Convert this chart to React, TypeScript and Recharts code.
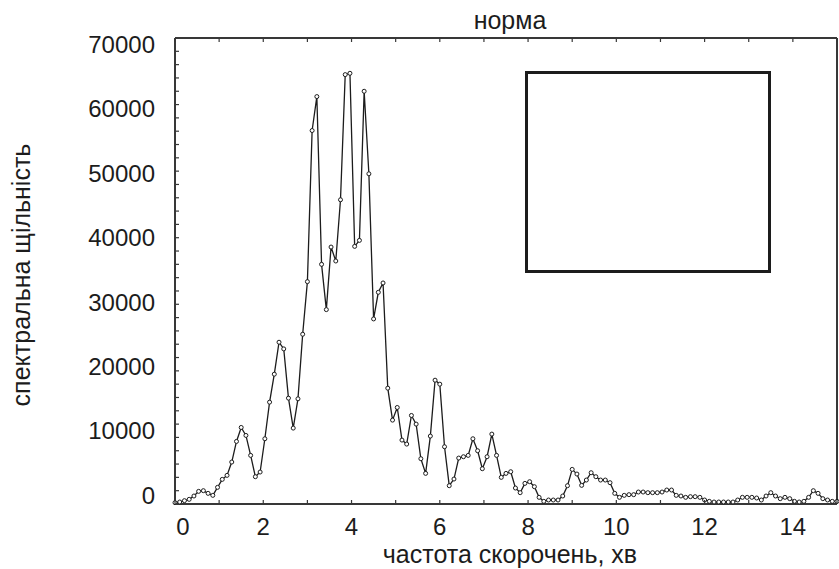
import React from "react";
import { LineChart, Line, XAxis, YAxis } from "recharts";

// частота (1/хв) — рівномірна сітка спектра
const freqs = [
  0, 0.107, 0.214, 0.321, 0.429, 0.536, 0.643, 0.75, 0.857, 0.964,
  1.071, 1.179, 1.286, 1.393, 1.5, 1.607, 1.714, 1.821, 1.929, 2.036,
  2.143, 2.25, 2.357, 2.464, 2.571, 2.679, 2.786, 2.893, 3, 3.107,
  3.214, 3.321, 3.429, 3.536, 3.643, 3.75, 3.857, 3.964, 4.071, 4.179,
  4.286, 4.393, 4.5, 4.607, 4.714, 4.821, 4.929, 5.036, 5.143, 5.25,
  5.357, 5.464, 5.571, 5.679, 5.786, 5.893, 6, 6.107, 6.214, 6.321,
  6.429, 6.536, 6.643, 6.75, 6.857, 6.964, 7.071, 7.179, 7.286, 7.393,
  7.5, 7.607, 7.714, 7.821, 7.929, 8.036, 8.143, 8.25, 8.357, 8.464,
  8.571, 8.679, 8.786, 8.893, 9, 9.107, 9.214, 9.321, 9.429, 9.536,
  9.643, 9.75, 9.857, 9.964, 10.071, 10.179, 10.286, 10.393, 10.5, 10.607,
  10.714, 10.821, 10.929, 11.036, 11.143, 11.25, 11.357, 11.464, 11.571, 11.679,
  11.786, 11.893, 12, 12.107, 12.214, 12.321, 12.429, 12.536, 12.643, 12.75,
  12.857, 12.964, 13.071, 13.179, 13.286, 13.393, 13.5, 13.607, 13.714, 13.821,
  13.929, 14.036, 14.143, 14.25, 14.357, 14.464, 14.571, 14.679, 14.786, 14.893,
  15,
];

// спектральна щільність
const density = [
  200, 300, 500, 700, 1200, 1900, 2000, 1600, 1300, 2500,
  3700, 4300, 6300, 9400, 11500, 10300, 7300, 4100, 4800, 9800,
  15300, 19500, 24300, 23300, 15900, 11400, 15800, 25500, 33400,
  56100, 61200, 36000, 29200, 38600, 36500, 45700, 64500, 64700, 38700,
  39600, 62000, 49600, 27800, 31800, 33200,
  17400, 12600,
  14500, 9600, 9000, 13300, 12000, 6800, 4600, 10200, 18600, 18000,
  8600, 2750, 3750, 6900, 7100, 7300, 9800, 8000, 5300, 7100,
  10500, 7300, 4000, 4600, 4850, 2400, 1700, 3100, 3350, 2600,
  1000, 400,
  600, 600, 600, 1200, 2750, 5200, 4500, 2800, 3600, 4700,
  4100, 3600, 3600, 3200, 1600, 1000, 1300, 1400, 1400, 1800,
  1800, 1700, 1700, 1700, 1800, 2100, 2100, 1300, 1200, 1000,
  1100, 1100, 1000, 600, 400, 300, 300, 300, 300, 300,
  600, 1000, 1000, 1000, 900, 600, 1200, 1700, 1200, 800,
  1000, 800, 400, 300, 400, 1000, 2000, 1600, 800, 600,
  400, 400,
];

const xTicks = [0, 1, 2, 3, 4, 5, 6, 7, 8, 9, 10, 11, 12, 13, 14, 15];
const xLabels = [0, 2, 4, 6, 8, 10, 12, 14];
const yTicks = [
  0, 2000, 4000, 6000, 8000, 10000, 12000, 14000, 16000, 18000,
  20000, 22000, 24000, 26000, 28000, 30000, 32000, 34000, 36000, 38000,
  40000, 42000, 44000, 46000, 48000, 50000, 52000, 54000, 56000, 58000,
  60000, 62000, 64000, 66000, 68000, 70000,
];
const yLabels = [0, 10000, 20000, 30000, 40000, 50000, 60000, 70000];

const W = 839;
const H = 569;
const PLOT = { left: 175, right: 837, top: 38, bottom: 504 };
const INK = "#1c1c1c";
const AXIS = "#383838";
const FONT = "'Liberation Sans', Arial, sans-serif";

const data = freqs.map((f, i) => ({ f, v: density[i] }));

function BottomTick(props: any) {
  const { x, payload } = props;
  const v = payload.value;
  return (
    <g>
      <line x1={x} x2={x} y1={PLOT.bottom} y2={PLOT.bottom - 4} stroke={AXIS} strokeWidth={1.2} />
      {xLabels.includes(v) && (
        <text
          x={x + (v === 0 ? 8 : 0)}
          y={PLOT.bottom + 31}
          textAnchor="middle"
          fontSize={24}
          fontFamily={FONT}
          fill={INK}
        >
          {v}
        </text>
      )}
    </g>
  );
}

function TopTick(props: any) {
  const { x } = props;
  return <line x1={x} x2={x} y1={PLOT.top} y2={PLOT.top + 4} stroke={AXIS} strokeWidth={1.2} />;
}

function LeftTick(props: any) {
  const { y, payload } = props;
  const v = payload.value;
  // statistica кладе підписи трохи стиснуто до центру
  const mid = y - 9 + (15.5 * v) / 70000;
  return (
    <g>
      <line x1={PLOT.left} x2={PLOT.left + 4} y1={y} y2={y} stroke={AXIS} strokeWidth={1.2} />
      {yLabels.includes(v) && (
        <text x={155} y={mid + 8.6} textAnchor="end" fontSize={24} fontFamily={FONT} fill={INK}>
          {v}
        </text>
      )}
    </g>
  );
}

function RightTick(props: any) {
  const { y } = props;
  return <line x1={PLOT.right} x2={PLOT.right - 4} y1={y} y2={y} stroke={AXIS} strokeWidth={1.2} />;
}

export default function App() {
  const axisLine = { stroke: AXIS, strokeWidth: 2 };
  return (
    <div style={{ position: "absolute", left: 0, top: 0, width: W, height: H, background: "#fff" }}>
      <LineChart
        width={W}
        height={H}
        data={data}
        margin={{ top: PLOT.top - 1, right: W - PLOT.right - 1, bottom: 0, left: 0 }}
      >
        <XAxis
          xAxisId="b"
          dataKey="f"
          type="number"
          domain={[0, 15]}
          ticks={xTicks}
          interval={0}
          height={H - PLOT.bottom}
          axisLine={axisLine}
          tickLine={false}
          tick={(p: any) => <BottomTick {...p} />}
        />
        <XAxis
          xAxisId="t"
          orientation="top"
          dataKey="f"
          type="number"
          domain={[0, 15]}
          ticks={xTicks}
          interval={0}
          height={1}
          axisLine={axisLine}
          tickLine={false}
          tick={(p: any) => <TopTick {...p} />}
        />
        <YAxis
          yAxisId="l"
          type="number"
          domain={[0, 70000]}
          ticks={yTicks}
          interval={0}
          width={PLOT.left}
          axisLine={axisLine}
          tickLine={false}
          tick={(p: any) => <LeftTick {...p} />}
        />
        <YAxis
          yAxisId="r"
          orientation="right"
          type="number"
          domain={[0, 70000]}
          ticks={yTicks}
          interval={0}
          width={1}
          axisLine={axisLine}
          tickLine={false}
          tick={(p: any) => <RightTick {...p} />}
        />
        <Line
          xAxisId="b"
          yAxisId="l"
          type="linear"
          dataKey="v"
          stroke={INK}
          strokeWidth={1.3}
          dot={{ r: 2, fill: "#fff", stroke: INK, strokeWidth: 1 }}
          activeDot={false}
          isAnimationActive={false}
        />
      </LineChart>

      <svg
        width={W}
        height={H}
        style={{ position: "absolute", left: 0, top: 0, pointerEvents: "none" }}
      >
        <text x={510} y={29} textAnchor="middle" fontSize={25} fontFamily={FONT} fill={INK}>
          норма
        </text>
        <text
          transform="translate(30,275) rotate(-90)"
          textAnchor="middle"
          fontSize={25}
          fontFamily={FONT}
          fill={INK}
        >
          спектральна щільність
        </text>
        <text x={510} y={563} textAnchor="middle" fontSize={25} fontFamily={FONT} fill={INK}>
          частота скорочень, хв
        </text>
        <rect x={526.5} y={72.5} width={243} height={199} fill="none" stroke={INK} strokeWidth={3} />
      </svg>
    </div>
  );
}
